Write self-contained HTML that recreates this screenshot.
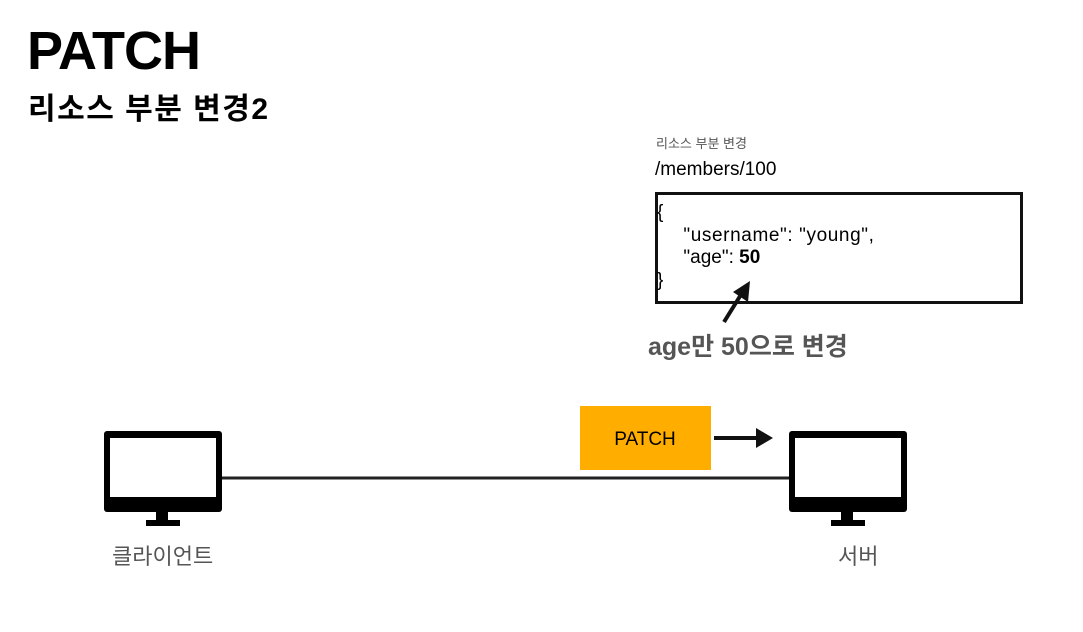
<!DOCTYPE html>
<html><head><meta charset="utf-8"><style>
body{margin:0;width:1083px;height:632px;background:#fff;position:relative;overflow:hidden;font-family:"Liberation Sans","Noto Sans CJK KR",sans-serif}
.a{position:absolute;white-space:nowrap}
</style></head><body>
<div class="a" style="left:27px;top:20px;font-size:54px;font-weight:bold;letter-spacing:-1px">PATCH</div>
<div class="a" style="left:28px;top:84px;font-size:30px;font-weight:bold;letter-spacing:1.5px">리소스 부분 변경2</div>
<div class="a" style="left:656px;top:133px;font-size:13px;color:#555">리소스 부분 변경</div>
<div class="a" style="left:655px;top:159px;font-size:19px">/members/100</div>
<div class="a" style="left:655px;top:192px;width:362px;height:106px;border:3px solid #111"></div>
<div class="a" style="left:657px;top:202px;font-size:19px;line-height:22.5px">{<br>&nbsp;&nbsp;&nbsp;&nbsp;&nbsp;<span style="letter-spacing:0.6px">"username": "young",</span><br>&nbsp;&nbsp;&nbsp;&nbsp;&nbsp;"age": <b>50</b><br>}</div>
<div class="a" style="left:648px;top:327px;font-size:25px;font-weight:bold;color:#555">age만 50으로 변경</div>
<svg class="a" style="left:0;top:0" width="1083" height="632">
<line x1="724" y1="322" x2="742" y2="293" stroke="#111" stroke-width="4"/>
<polygon points="750,281 748,302 733,292" fill="#111"/>
<line x1="222" y1="478" x2="789" y2="478" stroke="#222" stroke-width="3"/>
<line x1="714" y1="438" x2="758" y2="438" stroke="#111" stroke-width="4"/>
<polygon points="773,438 756,428 756,448" fill="#111"/>
<g fill="#000">
<rect x="104" y="431" width="118" height="81" rx="3"/>
<rect x="156" y="511" width="12" height="10"/>
<rect x="146" y="520" width="34" height="6"/>
<rect x="789" y="431" width="118" height="81" rx="3"/>
<rect x="841" y="511" width="12" height="10"/>
<rect x="831" y="520" width="34" height="6"/>
</g>
<rect x="110" y="438" width="106" height="59" fill="#fff"/>
<rect x="795" y="438" width="106" height="59" fill="#fff"/>
<rect x="580" y="406" width="131" height="64" fill="#ffae00"/>
<text x="645" y="445" font-size="19" text-anchor="middle" font-family="Liberation Sans,sans-serif">PATCH</text>
</svg>
<div class="a" style="left:112px;top:539px;font-size:22px;color:#555">클라이언트</div>
<div class="a" style="left:838px;top:539px;font-size:22px;color:#555">서버</div>
</body></html>
